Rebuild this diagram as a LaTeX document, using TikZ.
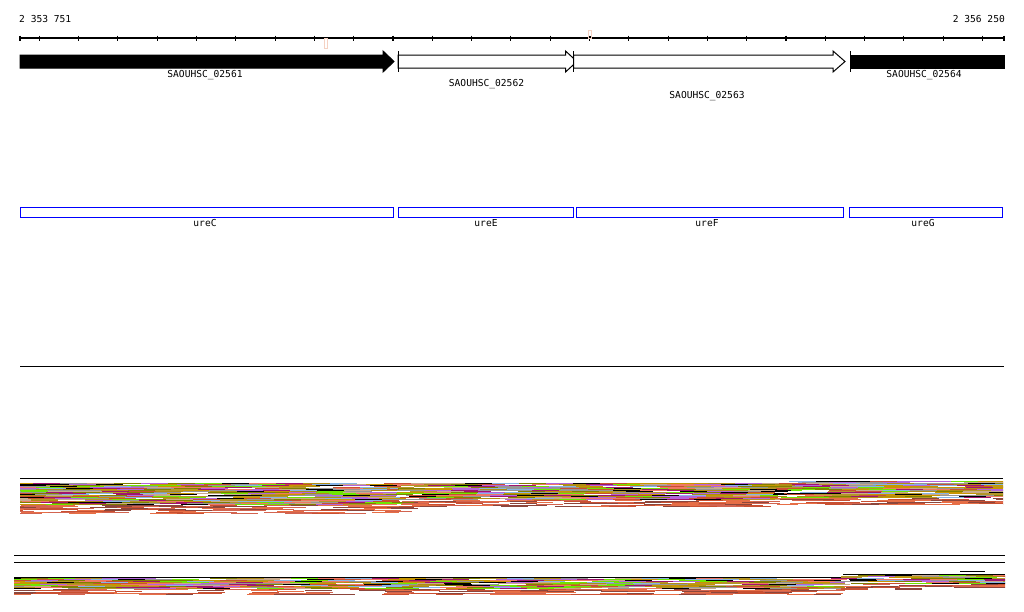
\documentclass[tikz,border=0pt]{standalone}
\usepackage{fontspec}
\newfontfamily\pix{DejaVu Sans Mono}
\definecolor{tc1}{RGB}{128,128,0}
\definecolor{tc2}{RGB}{135,180,230}
\definecolor{tc3}{RGB}{200,150,0}
\definecolor{tc4}{RGB}{110,230,0}
\definecolor{tc5}{RGB}{160,20,110}
\definecolor{tc6}{RGB}{240,120,100}
\definecolor{tc7}{RGB}{200,170,140}
\definecolor{tc8}{RGB}{200,80,50}
\definecolor{tc9}{RGB}{0,0,0}
\definecolor{tc10}{RGB}{150,150,150}
\definecolor{tc11}{RGB}{180,100,220}
\definecolor{tc12}{RGB}{176,140,20}
\definecolor{tc13}{RGB}{255,255,255}
\definecolor{tc14}{RGB}{180,150,40}
\definecolor{tc20}{RGB}{200,80,50}
\definecolor{tc21}{RGB}{230,110,70}
\definecolor{tc22}{RGB}{140,70,60}
\definecolor{tc23}{RGB}{255,255,255}
\definecolor{tc24}{RGB}{210,100,80}
\definecolor{tc25}{RGB}{255,255,255}
\definecolor{marker}{RGB}{245,210,195}
\tikzset{
  lbl/.style={font=\pix\fontsize{9.6}{10}\selectfont, inner sep=0pt, anchor=north},
  ureBox/.style={draw={rgb,255:red,0;green,0;blue,255}, line width=1pt},
  gfill/.style={fill=black, draw=black, line width=1pt},
  gopen/.style={fill=white, draw=black, line width=1pt},
  seg/.style={line width=1.15pt},
}
\begin{document}
\begin{tikzpicture}[x=1pt,y=-1pt]
\useasboundingbox (0,0) rectangle (1024,611);
% ruler
\coordinate (rs) at (20,38);
\coordinate (re) at (1004,38);
\draw[line width=1.1pt] (rs) -- (re);
\draw[line width=1.1pt] (20,35.5) -- (20,40.5) (1004,35.5) -- (1004,40.5);
\foreach \k in {0,...,24}{
  \draw[line width=1.1pt] ({39.3+39.3*\k},35.5) -- ({39.3+39.3*\k},40.5);
}
\node[lbl, anchor=north west] (pl) at (19,15) {2 353 751};
\node[lbl, anchor=north east] (pr) at (1005,15) {2 356 250};
\draw[marker, line width=0.8pt] (324,38.5) rectangle (327,48);
\draw[marker, line width=0.8pt] (588.5,30) rectangle (591.5,38);
\fill[black] (589.5,35.5) rectangle (590.5,37.5);
% genes
\draw[gfill] (20,55) -- (383,55) -- (383,51) -- (394,61.5) -- (383,72) -- (383,68) -- (20,68) -- cycle;
\node[lbl] (g1) at (205,70) {SAOUHSC\_02561};
\draw[gopen] (398,55) -- (565.5,55) -- (565.5,51) -- (577,61.5) -- (565.5,72) -- (565.5,68) -- (398,68) -- cycle;
\draw[line width=1pt] (398,51) -- (398,72);
\node[lbl] (g2) at (486.5,79) {SAOUHSC\_02562};
\draw[gopen] (573.5,55) -- (833,55) -- (833,51) -- (845,61.5) -- (833,72) -- (833,68) -- (573.5,68) -- cycle;
\draw[line width=1pt] (573.5,51) -- (573.5,72);
\node[lbl] (g3) at (707,91) {SAOUHSC\_02563};
\draw[gfill] (850,55) rectangle (1004,68);
\draw[line width=1pt] (850,51) -- (850,72);
\node[lbl] (g4) at (924,70) {SAOUHSC\_02564};
% ure boxes
\draw[ureBox] (20.5,207.5) rectangle (393.5,217.5);
\node[lbl] (u1) at (205,219) {ureC};
\draw[ureBox] (398.5,207.5) rectangle (573.5,217.5);
\node[lbl] (u2) at (486,219) {ureE};
\draw[ureBox] (576.5,207.5) rectangle (843.5,217.5);
\node[lbl] (u3) at (707,219) {ureF};
\draw[ureBox] (849.5,207.5) rectangle (1002.5,217.5);
\node[lbl] (u4) at (923,219) {ureG};
% separator
\draw[line width=1pt] (20,366) -- (1004,366);
% track 1
\draw[line width=1.3pt] (20,478.5) -- (1003,478.5);
\pgfmathsetseed{4242}
\begin{scope}
\clip (20,470) rectangle (1003,530);
\foreach \r in {0,...,30}{
  \pgfmathrandominteger{\off}{0}{27}
  \foreach \c in {0,...,37}{
    \pgfmathsetmacro{\xa}{20+\c*27-\off}
    \pgfmathsetmacro{\xb}{\xa+27}
    \pgfmathsetmacro{\yy}{\xa<396 ? 483.5+\r : (483.5+0.78*\r - (\xa>776 ? 2 : 0))}
    \ifnum\r<22 \pgfmathrandominteger{\ci}{1}{14}\else\pgfmathrandominteger{\ci}{20}{25}\fi
    \draw[seg, tc\ci] (\xa,\yy) -- (\xb,\yy);
  }
}
\end{scope}
% track 2
\draw[line width=1.3pt] (14,555.5) -- (1005,555.5);
\draw[line width=1.3pt] (14,562.5) -- (1005,562.5);
\begin{scope}
\clip (14,565) rectangle (1005,605);
\draw[line width=1.6pt] (14,577.5) -- (843,577.5);
\draw[line width=1.6pt] (843,574.5) -- (1005,574.5);
\draw[line width=1pt] (960,571) -- (985,571);
\foreach \r in {1,...,17}{
  \pgfmathrandominteger{\off}{0}{27}
  \foreach \c in {0,...,38}{
    \pgfmathsetmacro{\xa}{14+\c*27-\off}
    \pgfmathsetmacro{\xb}{\xa+27}
    \pgfmathsetmacro{\yy}{\xa<840 ? 577.5+\r : 574.5+0.85*\r}
    \ifnum\r<12 \pgfmathrandominteger{\ci}{1}{14}\else\pgfmathrandominteger{\ci}{20}{25}\fi
    \draw[seg, tc\ci] (\xa,\yy) -- (\xb,\yy);
  }
}
\end{scope}
\end{tikzpicture}
\end{document}
